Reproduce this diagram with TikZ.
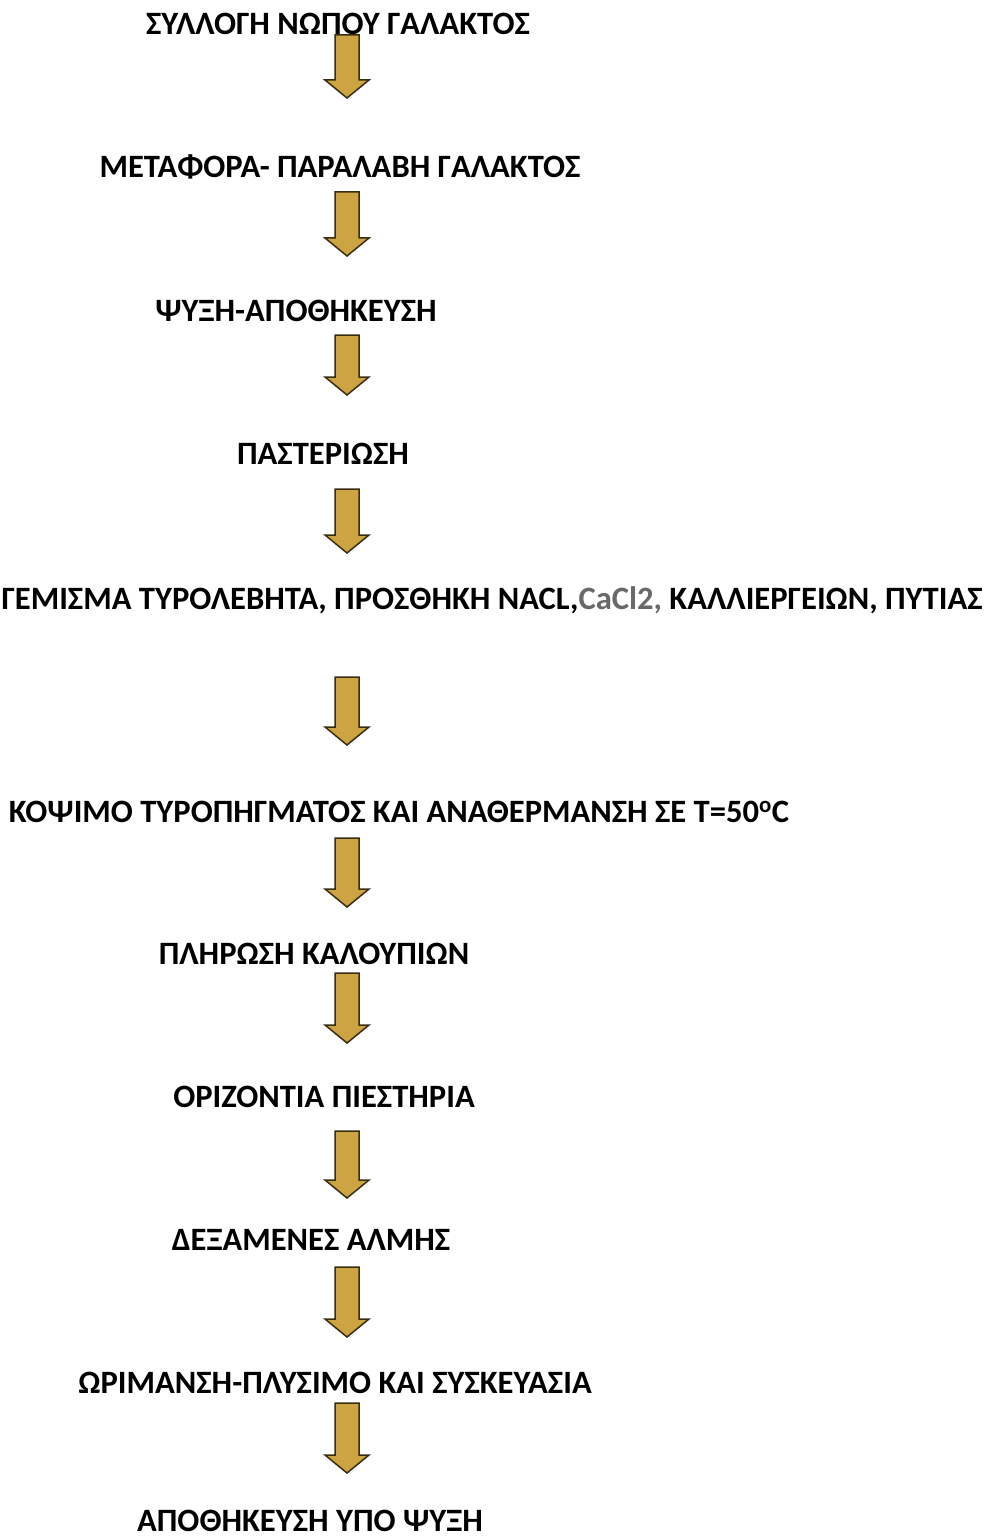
\documentclass[tikz,border=0pt]{standalone}
\usepackage{fontspec}
\setmainfont{Carlito}
\definecolor{arrowgold}{RGB}{204,164,66}
\definecolor{arrowedge}{RGB}{58,46,18}
\definecolor{greytext}{RGB}{105,105,105}
\tikzset{stage/.style={anchor=base,inner sep=0pt,font=\bfseries\fontsize{32.6}{36}\selectfont},
 flow/.style={fill=arrowgold,draw=arrowedge,line width=1.5pt,line join=miter}}
\begin{document}
\begin{tikzpicture}[x=1pt,y=-1pt]
 \useasboundingbox (0,0) rectangle (985,1538);
 \node[stage] (s1) at (338,35) {ΣΥΛΛΟΓΗ ΝΩΠΟΥ ΓΑΛΑΚΤΟΣ};
 \node[stage] (s2) at (340,178) {ΜΕΤΑΦΟΡΑ- ΠΑΡΑΛΑΒΗ ΓΑΛΑΚΤΟΣ};
 \node[stage] (s3) at (296,321) {ΨΥΞΗ-ΑΠΟΘΗΚΕΥΣΗ};
 \node[stage] (s4) at (323,464) {ΠΑΣΤΕΡΙΩΣΗ};
 \node[stage] (s5) at (492,609) {ΓΕΜΙΣΜΑ ΤΥΡΟΛΕΒΗΤΑ, ΠΡΟΣΘΗΚΗ NACL,{\color{greytext}CaCl2,} ΚΑΛΛΙΕΡΓΕΙΩΝ, ΠΥΤΙΑΣ};
 \node[stage] (s6) at (399,822) {ΚΟΨΙΜΟ ΤΥΡΟΠΗΓΜΑΤΟΣ ΚΑΙ ΑΝΑΘΕΡΜΑΝΣΗ ΣΕ Τ=50\textsuperscript{o}C};
 \node[stage] (s7) at (314,964) {ΠΛΗΡΩΣΗ ΚΑΛΟΥΠΙΩΝ};
 \node[stage] (s8) at (324,1107) {ΟΡΙΖΟΝΤΙΑ ΠΙΕΣΤΗΡΙΑ};
 \node[stage] (s9) at (311,1250) {ΔΕΞΑΜΕΝΕΣ ΑΛΜΗΣ};
 \node[stage] (s10) at (335,1393) {ΩΡΙΜΑΝΣΗ-ΠΛΥΣΙΜΟ ΚΑΙ ΣΥΣΚΕΥΑΣΙΑ};
 \node[stage] (s11) at (310,1531) {ΑΠΟΘΗΚΕΥΣΗ ΥΠΟ ΨΥΞΗ};
 % block arrows between the stages
 \foreach \top/\tip in {35/98,192/256,335/395,489/553,677/745,838/907,973/1043,1131/1198,1267/1337,1403/1473}
  \draw[flow] (335,\top)--(359,\top)--(359,\tip-18)--(369,\tip-18)--(347,\tip)--(325,\tip-18)--(335,\tip-18)--cycle;
\end{tikzpicture}
\end{document}
